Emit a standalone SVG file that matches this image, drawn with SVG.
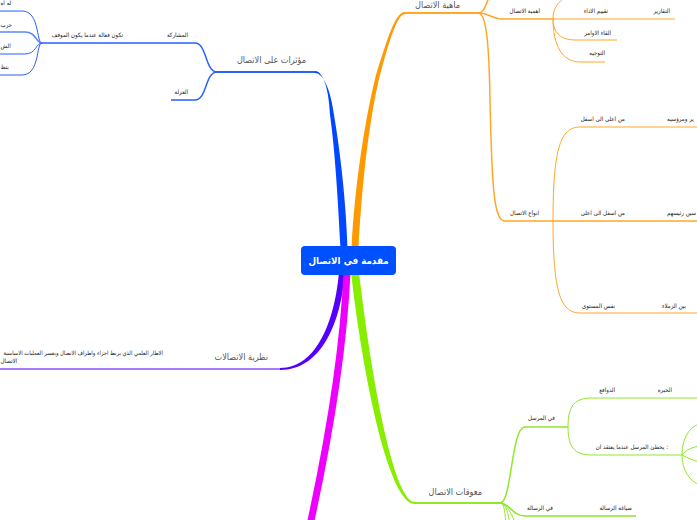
<svg xmlns="http://www.w3.org/2000/svg" width="697" height="520" viewBox="0 0 697 520">
<style>
.t{font-family:"DejaVu Sans Condensed","DejaVu Sans",sans-serif;font-size:6.1px;fill:#222;text-anchor:end}
.m{font-family:"DejaVu Sans Condensed","DejaVu Sans",sans-serif;font-size:9px;fill:#555;text-anchor:end}
.c{font-family:"DejaVu Sans Condensed","DejaVu Sans",sans-serif;font-size:9.7px;font-weight:bold;fill:#fff;text-anchor:middle}
.s{text-anchor:start}
.b{fill:none;stroke:#2a5fff}
.o{fill:none;stroke:#ffa726}
.g{fill:none;stroke:#8fe82a}
.p{fill:none;stroke:#a67cff}
</style>
<rect width="697" height="520" fill="#fff"/>
<g id="connectors">
<path d="M315,71 C323,71 329,89 330,115 C335,150 338,200 340.5,248 L347.5,248 C346,200 340,150 334,115 C331,92 324,73 315,73 Z" fill="#0047ff"/>
<path d="M405,12 C395,12 387,40 376,75 C366,115 355,180 351.5,248 L358.5,248 C362,180 370,115 380,75 C389,42 397,14 405,14 Z" fill="#ff9900"/>
<path d="M339,272 C335,318 318,368 280,368 L280,370 C322,370 341,322 345,272 Z" fill="#5500ff"/>
<path d="M347,272 C344,340 333,420 310,525" fill="none" stroke="#ee00ff" stroke-width="7"/>
<path d="M351,272 C361,362 387,504 415,504 L415,502 C392,502 369,360 359,272 Z" fill="#88ee00"/>
<g class="b">
<path d="M217,72 L315,72" stroke-width="2"/>
<path d="M217,72 C205,72 207,43 195,43 L42,43" stroke-width="1.5"/>
<path d="M217,72 C205,72 207,100 195,100 L171,100" stroke-width="1.5"/>
<path d="M42,43 C36,43 40,11 22,11 L0,11"/>
<path d="M42,43 C36,43 36,32 25,32 L0,32" stroke-width="1.5" stroke="#5c85ff"/>
<path d="M42,43 C36,43 36,54 25,54 L0,54"/>
<path d="M42,43 C36,43 40,75 22,75 L0,75"/>
</g>
<g class="o">
<path d="M405,13 L478,13" stroke-width="2"/>
<path d="M478,13 C485,13 486,2 490,-4" stroke-width="1.5"/>
<path d="M478,13 C490,13 492,19 502,19 L553,19" stroke-width="1.5"/>
<path d="M478,13 C486,13 489,40 490,100 C492,190 494,221 505,221 L553,221" stroke-width="1.5"/>
<path d="M553,19 C553,8 558,2 566,-3"/>
<path d="M553,19 L675,19"/>
<path d="M553,19 C553,32 560,40 575,40 L617,40"/>
<path d="M553,19 C553,45 562,62 580,62 L605,62"/>
<path d="M553,221 C553,150 560,127 580,127 L697,127"/>
<path d="M553,221 L697,221" stroke-width="1.5"/>
<path d="M553,221 C553,290 560,313 580,313 L697,313"/>
</g>
<path class="p" d="M0,369 L280,369" stroke-width="2"/>
<g class="g">
<path d="M415,503 L500,503" stroke-width="2"/>
<path d="M500,503 C512,503 511,427 525,427 L568,427" stroke-width="1.5"/>
<path d="M500,503 C510,503 512,516 525,516 L636,516" stroke-width="1.5"/>
<path d="M500,503 C506,503 508,512 510,525"/>
<path d="M500,503 C505,503 505,515 506,525"/>
<path d="M500,503 C507,503 512,515 516,525"/>
<path d="M568,427 C568,405 575,398 592,398 L697,398"/>
<path d="M568,427 C568,448 575,455 592,455 L682,455"/>
<path d="M682,455 C682,438 690,426 700,424"/>
<path d="M682,455 C686,450 692,447 700,446"/>
<path d="M682,455 C688,458 694,461 700,462"/>
<path d="M682,455 C682,470 690,482 700,485"/>
</g>
</g>
<g id="center">
<rect x="301" y="246" width="95" height="29" rx="4" fill="#0050ff"/>
<text class="c" x="348.5" y="263.5">مقدمة في الاتصال</text>
</g>
<g id="n-influences"><text class="m" x="306" y="63">مؤثرات على الاتصال</text></g>
<g id="n-participation"><text class="t" x="188" y="37">المشاركة</text></g>
<g id="n-effective"><text class="t" x="123" y="37">تكون فعالة عندما يكون الموقف</text></g>
<g id="n-isolation"><text class="t" x="188" y="94">العزلة</text></g>
<g id="n-l1"><text class="t s" x="0.5" y="5">له اه</text></g>
<g id="n-l2"><text class="t s" x="0.5" y="27">حرب</text></g>
<g id="n-l3"><text class="t s" x="0.5" y="48">الش</text></g>
<g id="n-l4"><text class="t s" x="0.5" y="69">بنظ</text></g>
<g id="n-nature"><text class="m" x="460" y="7.5">ماهية الاتصال</text></g>
<g id="n-importance"><text class="t" x="540" y="13">اهمية الاتصال</text></g>
<g id="n-eval"><text class="t" x="608" y="13">تقييم الاداء</text></g>
<g id="n-reports"><text class="t" x="670" y="13">التقارير</text></g>
<g id="n-orders"><text class="t" x="611" y="35">القاء الاوامر</text></g>
<g id="n-guidance"><text class="t" x="605" y="55">التوجيه</text></g>
<g id="n-types"><text class="t" x="539" y="215">انواع الاتصال</text></g>
<g id="n-down"><text class="t" x="625" y="121">من اعلى الى اسفل</text></g>
<g id="n-down2"><text class="t s" x="667" y="121">ير ومرؤسيه</text></g>
<g id="n-up"><text class="t" x="625" y="215">من اسفل الى اعلى</text></g>
<g id="n-up2"><text class="t s" x="667" y="215">سين رئيسهم</text></g>
<g id="n-level"><text class="t" x="615" y="308">نفس المستوى</text></g>
<g id="n-peers"><text class="t" x="686" y="308">بين الزملاء</text></g>
<g id="n-theory"><text class="m" x="268" y="360">نظرية الاتصالات</text></g>
<g id="n-theory-def">
<text class="t" x="163" y="355" style="font-size:5.8px">الاطار العلمي الذي يربط اجزاء واطراف الاتصال ويفسر العمليات الاساسية</text>
<text class="t s" x="0.5" y="363">الاتصال</text>
</g>
<g id="n-barriers"><text class="m" x="482" y="495">معوقات الاتصال</text></g>
<g id="n-sender"><text class="t" x="555" y="420">في المرسل</text></g>
<g id="n-motives"><text class="t" x="615" y="392">الدوافع</text></g>
<g id="n-experience"><text class="t" x="672" y="392">الخبرة</text></g>
<g id="n-error"><text class="t" x="668" y="449">يخطئ المرسل عندما يعتقد ان :</text></g>
<g id="n-message"><text class="t" x="553" y="510">في الرسالة</text></g>
<g id="n-wording"><text class="t" x="632" y="510">صياغة الرسالة</text></g>
</svg>
